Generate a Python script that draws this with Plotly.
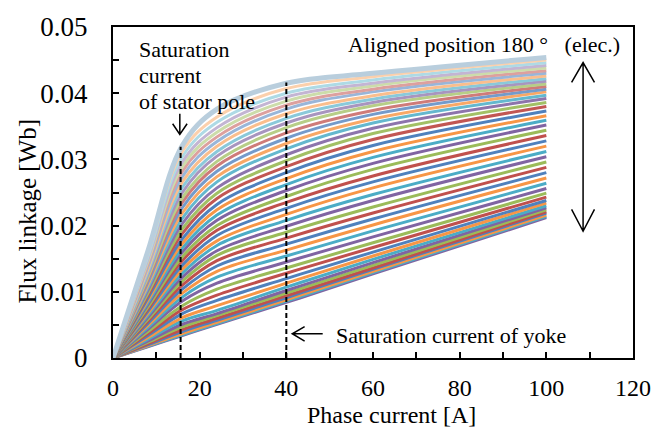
import plotly.graph_objects as go

# Phase current sample points [A]
current_a = [0, 8, 16, 24, 40, 60, 100]

# Flux linkage [Wb] of each rotor-position curve (unaligned -> aligned),
# one list per sampled phase current
flux_8a = [0.0017, 0.00175, 0.00185, 0.0020, 0.00215, 0.00235, 0.00255, 0.0028,
           0.00305, 0.00335, 0.00365, 0.00395, 0.0043, 0.0046, 0.0049, 0.0052,
           0.0055, 0.0058, 0.0061, 0.0064, 0.0067, 0.0070, 0.00735, 0.00765,
           0.0080, 0.0083, 0.00865, 0.0090, 0.0094, 0.00975, 0.01015, 0.01055,
           0.01095, 0.01135, 0.01175, 0.0121, 0.0125, 0.0129, 0.0133, 0.0137,
           0.0141, 0.01445, 0.0148, 0.0152, 0.0156, 0.01605]
flux_16a = [0.0034, 0.0035, 0.0037, 0.0040, 0.0043, 0.0047, 0.0051, 0.0056,
            0.0061, 0.0067, 0.0073, 0.0079, 0.0086, 0.0092, 0.0098, 0.0104,
            0.0110, 0.0116, 0.0122, 0.0128, 0.0134, 0.0140, 0.0147, 0.0153,
            0.0160, 0.0166, 0.0173, 0.0180, 0.0188, 0.0195, 0.0203, 0.0211,
            0.0219, 0.0227, 0.0235, 0.0242, 0.0250, 0.0258, 0.0266, 0.0274,
            0.0282, 0.0289, 0.0296, 0.0304, 0.0312, 0.0321]
flux_24a = [0.0051, 0.0052, 0.0054, 0.0057, 0.0060, 0.0064, 0.0067, 0.0072,
            0.0079, 0.0087, 0.0095, 0.0104, 0.0113, 0.0122, 0.0131, 0.0139,
            0.0147, 0.0155, 0.0162, 0.0170, 0.0177, 0.0185, 0.0193, 0.0200,
            0.0208, 0.0216, 0.0224, 0.0232, 0.0241, 0.0249, 0.0257, 0.0266,
            0.0274, 0.0282, 0.0290, 0.0297, 0.0305, 0.0312, 0.0320, 0.0327,
            0.0334, 0.0341, 0.0348, 0.0356, 0.0364, 0.0376]
flux_40a = [0.0084, 0.0086, 0.0088, 0.0091, 0.0094, 0.0098, 0.0102, 0.0107,
            0.0113, 0.0120, 0.0128, 0.0136, 0.0145, 0.0154, 0.0163, 0.0172,
            0.0181, 0.0190, 0.0199, 0.0208, 0.0217, 0.0226, 0.0235, 0.0244,
            0.0253, 0.0262, 0.0271, 0.0280, 0.0289, 0.0298, 0.0307, 0.0316,
            0.0324, 0.0332, 0.0340, 0.0348, 0.0355, 0.0362, 0.0369, 0.0376,
            0.0382, 0.0388, 0.0394, 0.0400, 0.0407, 0.0415]
flux_60a = [0.0127, 0.0129, 0.0131, 0.0134, 0.0136, 0.0140, 0.0144, 0.0149,
            0.0154, 0.0160, 0.0167, 0.0174, 0.0183, 0.0192, 0.0201, 0.0210,
            0.0219, 0.0228, 0.0238, 0.0247, 0.0257, 0.0266, 0.0275, 0.0285,
            0.0294, 0.0303, 0.0312, 0.0321, 0.0330, 0.0339, 0.0347, 0.0355,
            0.0361, 0.0368, 0.0374, 0.0381, 0.0386, 0.0391, 0.0396, 0.0402,
            0.0406, 0.0411, 0.0415, 0.0420, 0.0425, 0.0430]
flux_100a = [0.0212, 0.0214, 0.0216, 0.0219, 0.0221, 0.0224, 0.0227, 0.0230,
             0.0234, 0.0238, 0.0243, 0.0249, 0.0256, 0.0264, 0.0272, 0.0280,
             0.0288, 0.0296, 0.0304, 0.0312, 0.0320, 0.0328, 0.0336, 0.0344,
             0.0352, 0.0359, 0.0366, 0.0373, 0.0380, 0.0386, 0.0392, 0.0397,
             0.0402, 0.0406, 0.0410, 0.0414, 0.0418, 0.0422, 0.0426, 0.0430,
             0.0434, 0.0438, 0.0442, 0.0446, 0.0450, 0.0454]

# Saturation-current markers: (current, flux at top curve)
stator_sat_current = [15.6, 15.6]
stator_sat_flux = [0, 0.0319]
yoke_sat_current = [40.0, 40.0]
yoke_sat_flux = [0, 0.0416]

FONT = "Liberation Serif, Times New Roman, serif"
PALETTE = ["#4F81BD", "#C0504D", "#9BBB59", "#8064A2", "#4BACC6", "#F79646"]


def lighten(hex_color, f):
    r, g, b = (int(hex_color[i:i + 2], 16) for i in (1, 3, 5))
    r, g, b = (round(c + (255 - c) * f) for c in (r, g, b))
    return f"rgb({r},{g},{b})"


columns = [flux_8a, flux_16a, flux_24a, flux_40a, flux_60a, flux_100a]
n_curves = len(flux_100a)

fig = go.Figure()
for k in range(n_curves):
    ys = [0.0] + [col[k] for col in columns]
    base = PALETTE[(k + 3) % 6]
    f = 0.0 if k < 28 else min(0.55, (k - 27) * 0.035)
    color = lighten(base, f)
    width = 3
    if k == n_curves - 1:
        color = "#B9CEDD"
        width = 5
    fig.add_trace(go.Scatter(
        x=current_a, y=ys, mode="lines",
        line=dict(color=color, width=width, shape="spline", smoothing=1.0),
        showlegend=False, hoverinfo="skip"))

for xs, ys in ((stator_sat_current, stator_sat_flux), (yoke_sat_current, yoke_sat_flux)):
    fig.add_trace(go.Scatter(
        x=xs, y=ys, mode="lines",
        line=dict(color="black", width=2, dash="5px,3px"),
        showlegend=False, hoverinfo="skip"))

arrow_line = dict(color="black", width=1.5)
shapes = [
    # stator-pole pointer
    dict(type="path", xref="x", yref="y", line=arrow_line,
         path="M 15.42,0.03688 L 15.42,0.03379 M 13.76,0.03538 L 15.42,0.03379 L 17.1,0.03538"),
    # yoke pointer
    dict(type="path", xref="x", yref="y", line=arrow_line,
         path="M 48.39,0.00366 L 41.36,0.00366 M 44.22,0.00475 L 41.36,0.00366 L 44.22,0.00255"),
    # rotor position range (double-headed)
    dict(type="path", xref="x", yref="y", line=arrow_line,
         path=("M 108.48,0.04463 L 108.48,0.01915 "
               "M 105.83,0.04163 L 108.48,0.04463 L 111.11,0.04163 "
               "M 105.83,0.02244 L 108.48,0.01915 L 111.11,0.02244")),
]

txt = dict(family=FONT, size=22, color="black")
annotations = [
    dict(x=5.44, y=0.04658, text="Saturation", xanchor="left", yanchor="middle"),
    dict(x=5.44, y=0.04261, text="current", xanchor="left", yanchor="middle"),
    dict(x=5.44, y=0.03879, text="of stator pole", xanchor="left", yanchor="middle"),
    dict(x=53.7, y=0.04729, text="Aligned position 180 °\u00a0\u00a0\u00a0(elec.)",
         xanchor="left", yanchor="middle"),
    dict(x=51.0, y=0.00345, text="Saturation current of yoke", xanchor="left", yanchor="middle"),
]
for a in annotations:
    a.update(xref="x", yref="y", showarrow=False, font=txt)

annotations += [
    dict(xref="paper", yref="paper", x=0.5355, y=-0.172, text="Phase current [A]",
         showarrow=False, xanchor="center", yanchor="middle",
         font=dict(family=FONT, size=24, color="black")),
    dict(xref="paper", yref="paper", x=-0.165, y=0.443, text="Flux linkage [Wb]",
         textangle=-90, showarrow=False, xanchor="center", yanchor="middle",
         font=dict(family=FONT, size=25, color="black")),
]

axis_common = dict(
    showline=True, linecolor="black", linewidth=2, mirror=True,
    ticks="inside", ticklen=6, tickwidth=1.5, tickcolor="black",
    showgrid=False, zeroline=False,
)

fig.update_layout(
    width=663, height=430,
    margin=dict(l=113, r=21, t=24, b=72),
    paper_bgcolor="white", plot_bgcolor="white",
    xaxis=dict(range=[0, 120], dtick=20, tick0=0,
               minor=dict(ticks="inside", dtick=10, ticklen=6, tickwidth=1.5, tickcolor="black"),
               tickfont=dict(family=FONT, size=24, color="black"),
               ticklabelstandoff=7, **axis_common),
    yaxis=dict(range=[0, 0.05], dtick=0.01, tick0=0,
               minor=dict(ticks="inside", dtick=0.005, ticklen=6, tickwidth=1.5, tickcolor="black"),
               tickfont=dict(family=FONT, size=27, color="black"),
               ticklabelstandoff=18, **axis_common),
    shapes=shapes,
    annotations=annotations,
)

fig.write_html("out.html")
